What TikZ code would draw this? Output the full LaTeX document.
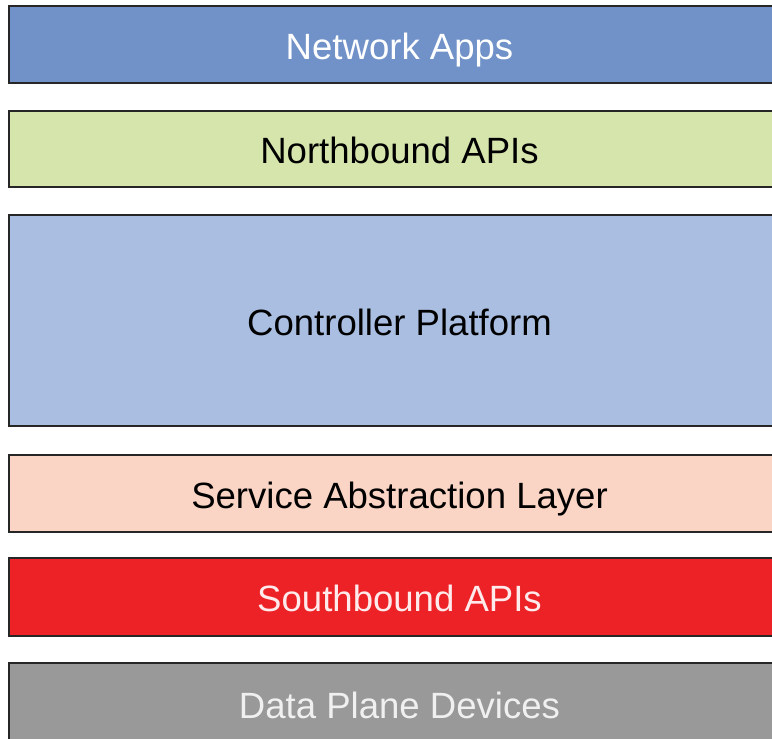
\documentclass[tikz,border=0pt]{standalone}
\usepackage{fontspec}
\setmainfont{Liberation Sans}
\usepackage{xcolor}
\usepackage{tikz}

\definecolor{appsblue}{HTML}{7092C8}
\definecolor{northgreen}{HTML}{D5E5AC}
\definecolor{ctrlblue}{HTML}{A9BEE0}
\definecolor{salpeach}{HTML}{FAD5C5}
\definecolor{southred}{HTML}{EC2227}
\definecolor{planegray}{HTML}{999999}

\begin{document}
\begin{tikzpicture}[
  layer/.style={draw=black!85, line width=1.3pt, minimum width=195.25mm, inner sep=0pt,
    text height=21pt, text depth=0pt, font=\fontsize{26}{31}\selectfont},
  x=0.25mm, y=-0.25mm
]
\useasboundingbox (0,0) rectangle (772,738);
\clip (0,0) rectangle (772,738);

\node[layer, fill=appsblue, text=white, minimum height=19.25mm] (apps) at (399.5,44.5) {Network Apps};
\node[layer, fill=northgreen, minimum height=19mm] (nbi) at (399.5,149) {Northbound APIs};
\node[layer, fill=ctrlblue, minimum height=52.75mm] (ctrl) at (399.5,320.5) {Controller Platform};
\node[layer, fill=salpeach, minimum height=19.25mm] (sal) at (399.5,493.5) {Service Abstraction Layer};
\node[layer, fill=southred, text=red!8, minimum height=19.5mm] (sbi) at (399.5,597) {Southbound APIs};
\node[layer, fill=planegray, text=black!6, minimum height=20.5mm] (plane) at (399.5,704) {Data Plane Devices};
\end{tikzpicture}
\end{document}
